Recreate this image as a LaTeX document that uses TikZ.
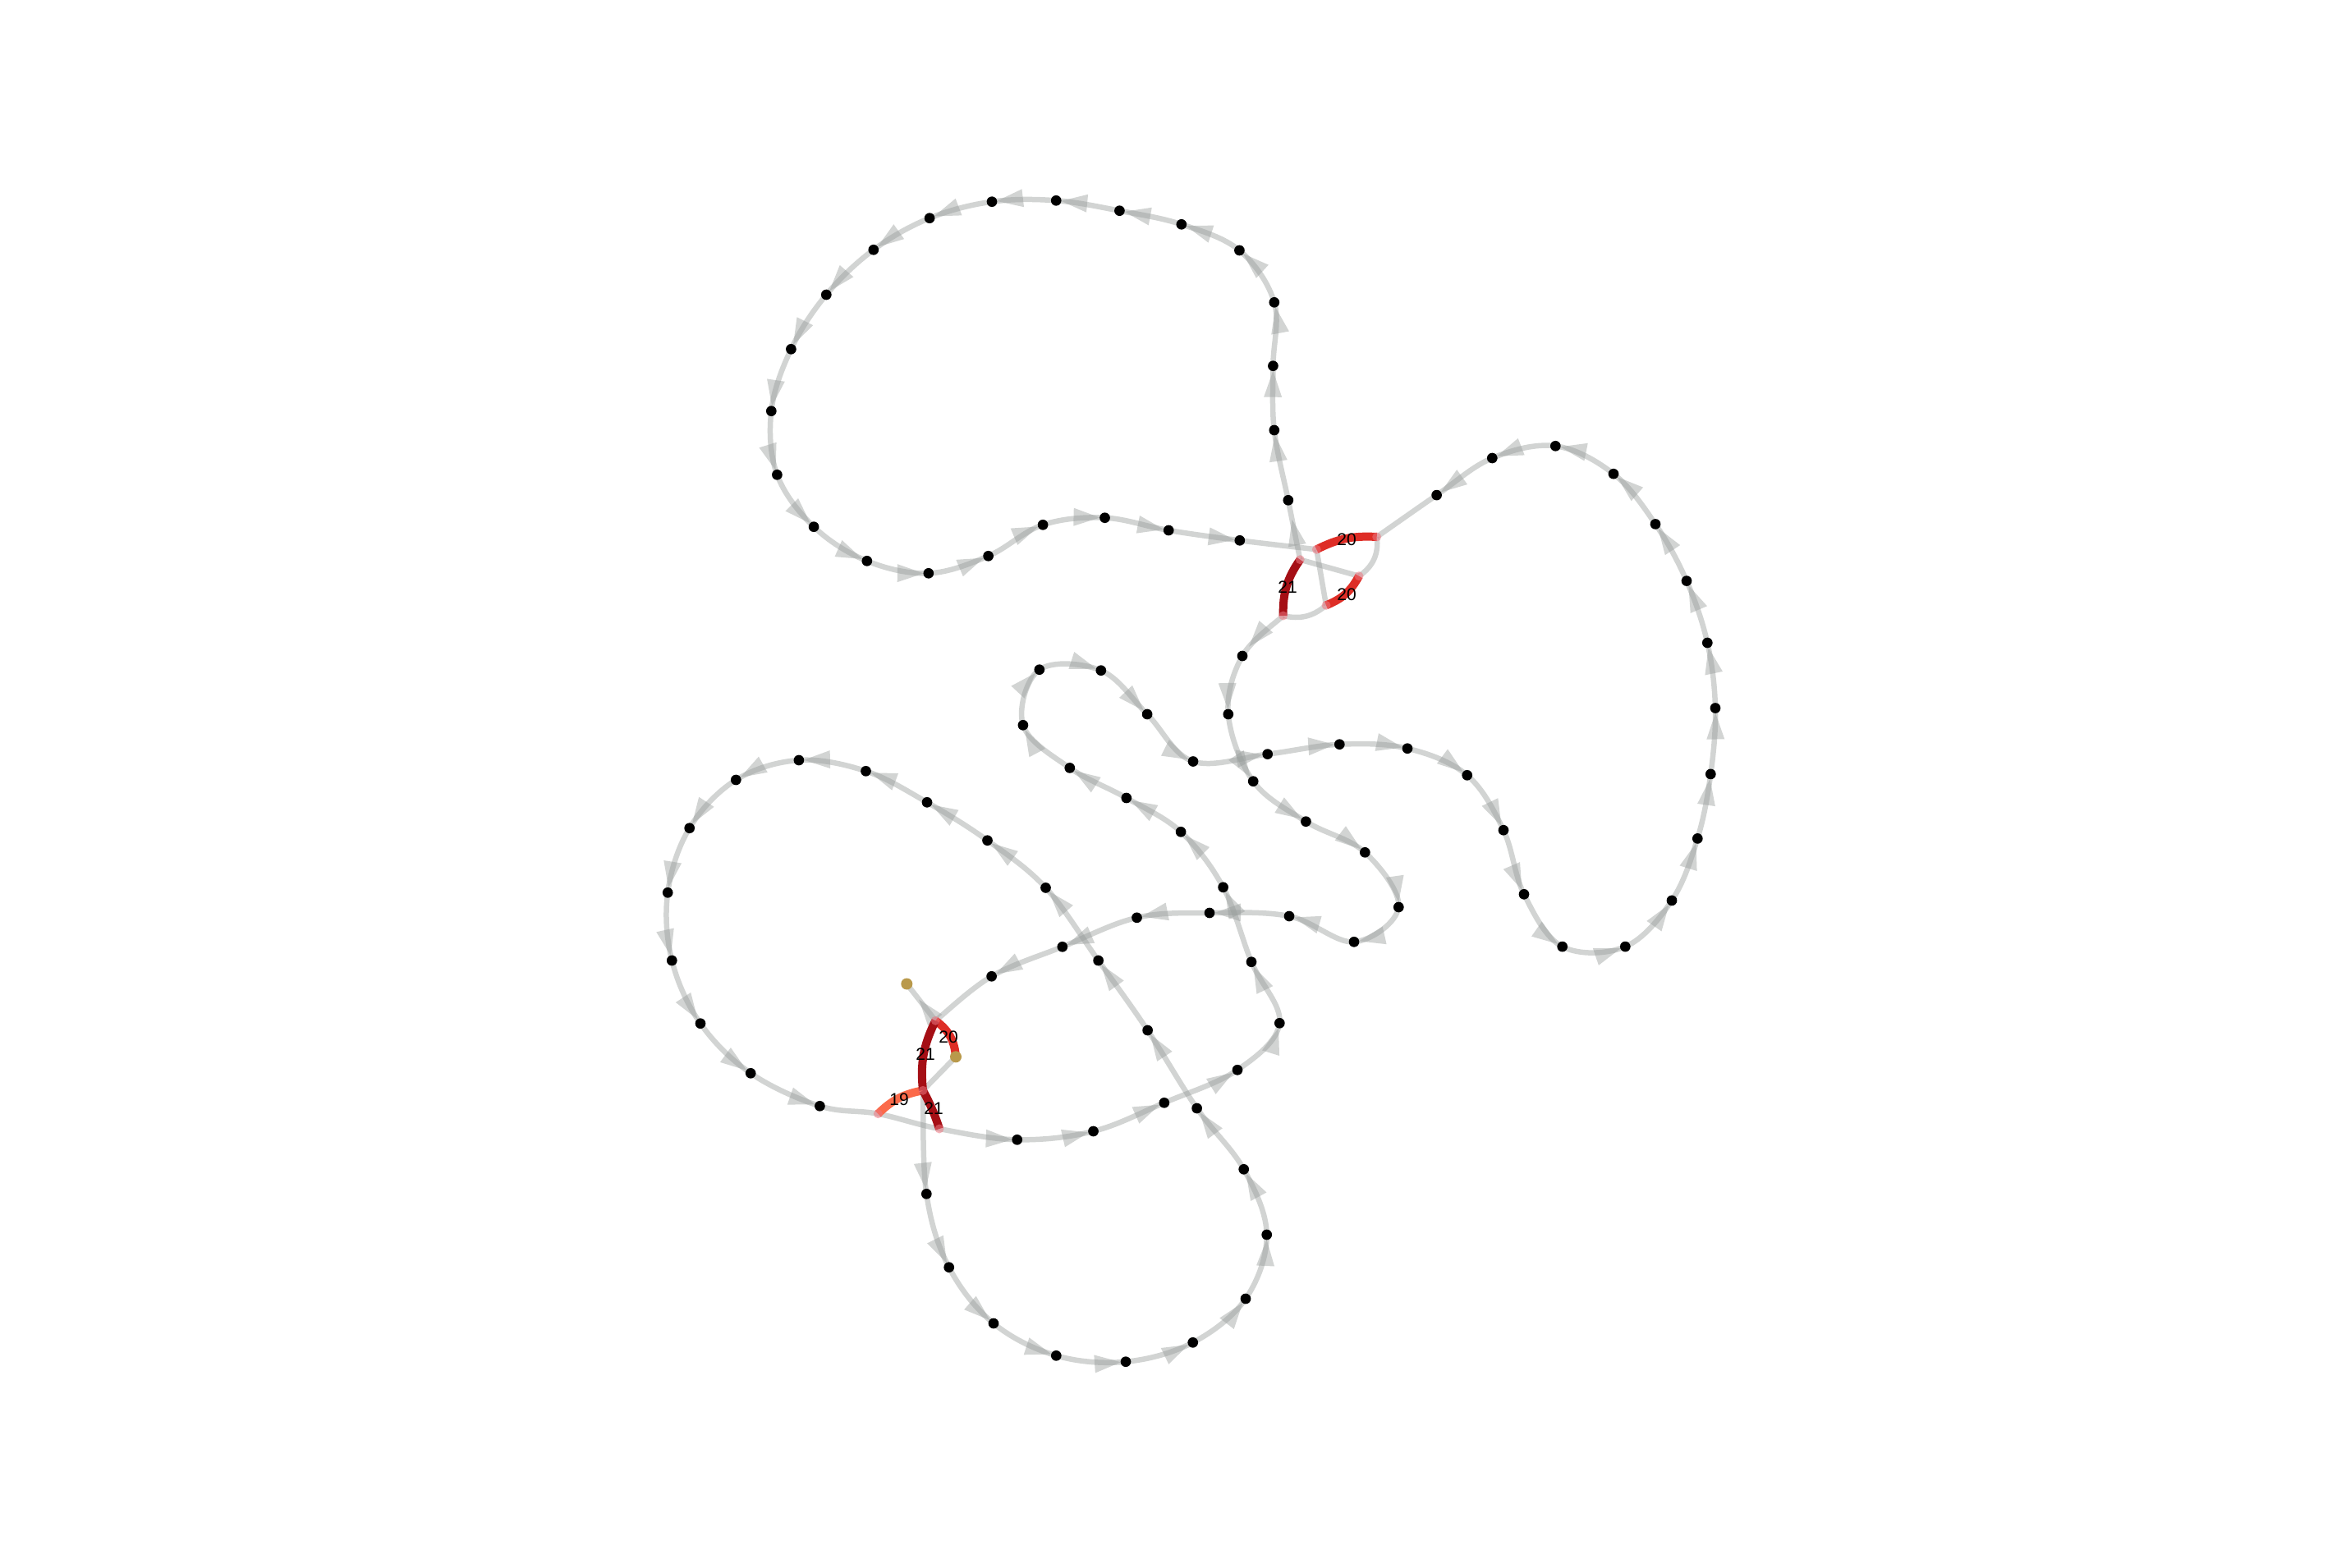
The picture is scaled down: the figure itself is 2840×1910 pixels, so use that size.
\documentclass[tikz,border=0pt]{standalone}
\usepackage{fontspec}
\setmainfont{Liberation Sans}
\usetikzlibrary{calc,decorations.markings}
\pgfdeclarelayer{edges}
\pgfdeclarelayer{reds}
\pgfsetlayers{edges,reds,main}
\definecolor{edgegray}{RGB}{150,155,153}
\definecolor{redA}{RGB}{251,106,74}
\definecolor{redB}{RGB}{222,45,38}
\definecolor{redC}{RGB}{165,15,21}
\definecolor{goldc}{RGB}{185,153,75}
\definecolor{jpink}{RGB}{236,118,128}
\tikzset{
  gedge/.style={draw=edgegray, draw opacity=0.43, line width=6.5pt},
  arw/.style={postaction={decorate, decoration={markings, mark=at position -#1 with {\fill[fill=edgegray, fill opacity=0.43] (0pt,0pt) -- (-32pt,11pt) -- (-32pt,-11pt) -- cycle;}}}},
  arw/.default=6pt,
  redge/.style={line width=10pt},
  dot/.style={circle, fill=black, inner sep=0pt, minimum size=12.7pt},
  golddot/.style={circle, fill=goldc, inner sep=0pt, minimum size=14pt},
  jn/.style={circle, fill=jpink, fill opacity=0.55, inner sep=0pt, minimum size=11pt},
  lab/.style={font=\fontsize{21}{25}\selectfont, inner sep=0pt, text=black},
}
\expandafter\def\csname noarw@P1\endcsname{}
\expandafter\def\csname noarw@P2\endcsname{}
\expandafter\def\csname noarw@P3\endcsname{}
\expandafter\def\csname noarw@P4\endcsname{}
\expandafter\def\csname noarw@P5\endcsname{}
\expandafter\def\csname noarw@P6\endcsname{}
\expandafter\def\csname noarw@Q1\endcsname{}
\expandafter\def\csname noarw@Q2\endcsname{}
\expandafter\def\csname noarw@Q3\endcsname{}
\expandafter\def\csname noarw@Q4\endcsname{}
\expandafter\def\csname arwoff@P3@a1\endcsname{24pt}
\expandafter\def\csname arwoff@P4@c1\endcsname{14pt}
\newcommand\eseg[4]{%
  \ifcsname noarw@#3\endcsname
    \draw[gedge] (#2.center) .. controls ($(#2.center)+0.1667*(#3.center)-0.1667*(#1.center)$) and ($(#3.center)+0.1667*(#2.center)-0.1667*(#4.center)$) .. (#3.center);%
  \else
    \ifcsname arwoff@#2@#3\endcsname
      \edef\myoff{\csname arwoff@#2@#3\endcsname}%
    \else
      \def\myoff{6pt}%
    \fi
    \draw[gedge,arw=\myoff] (#2.center) .. controls ($(#2.center)+0.1667*(#3.center)-0.1667*(#1.center)$) and ($(#3.center)+0.1667*(#2.center)-0.1667*(#4.center)$) .. (#3.center);%
  \fi
}
\ExplSyntaxOn
\seq_new:N \l_my_chain_seq
\int_new:N \l_my_n_int
\NewDocumentCommand \chain { m }
  {
    \seq_set_from_clist:Nn \l_my_chain_seq {#1}
    \int_set:Nn \l_my_n_int { \seq_count:N \l_my_chain_seq }
    \int_step_inline:nn { \l_my_n_int - 1 }
      {
        \use:e
          {
            \exp_not:N \eseg
              { \seq_item:Nn \l_my_chain_seq { \int_max:nn { ##1 - 1 } { 1 } } }
              { \seq_item:Nn \l_my_chain_seq { ##1 } }
              { \seq_item:Nn \l_my_chain_seq { ##1 + 1 } }
              { \seq_item:Nn \l_my_chain_seq { \int_min:nn { ##1 + 2 } { \l_my_n_int } } }
          }
      }
  }
\ExplSyntaxOff
\begin{document}
\begin{tikzpicture}[x=1pt,y=-1pt]
\useasboundingbox (0,0) rectangle (2840,1910);
% top loop
\node[dot] (a1) at (1568.8,609.3) {};
\node[dot] (a2) at (1551.8,524) {};
\node[dot] (a3) at (1550.4,445.7) {};
\node[dot] (a4) at (1551.8,368.3) {};
\node[dot] (a5) at (1509.4,305) {};
\node[dot] (a6) at (1438.8,273.3) {};
\node[dot] (a7) at (1363.4,256.7) {};
\node[dot] (a8) at (1286.2,244.3) {};
\node[dot] (a9) at (1208,245.7) {};
\node[dot] (a10) at (1132.1,265.7) {};
\node[dot] (a11) at (1063.8,304.3) {};
\node[dot] (a12) at (1006.3,359) {};
\node[dot] (a13) at (963.4,425.3) {};
\node[dot] (a14) at (939.3,500.7) {};
\node[dot] (a15) at (946.4,578.3) {};
\node[dot] (a16) at (991.1,641.7) {};
\node[dot] (a17) at (1055.8,683.3) {};
\node[dot] (a18) at (1130.8,698.3) {};
\node[dot] (a19) at (1203.6,677.3) {};
\node[dot] (a20) at (1270.1,639.3) {};
\node[dot] (a21) at (1345.5,630.7) {};
\node[dot] (a22) at (1423.2,646) {};
\node[dot] (a23) at (1509.8,658.3) {};
% right loop
\node[dot] (b1) at (1749.6,603.1) {};
\node[dot] (b2) at (1817.3,558) {};
\node[dot] (b3) at (1894.3,543.3) {};
\node[dot] (b4) at (1965,577.2) {};
\node[dot] (b5) at (2016,638.4) {};
\node[dot] (b6) at (2054,707.6) {};
\node[dot] (b7) at (2079.3,783) {};
\node[dot] (b8) at (2089,862.5) {};
\node[dot] (b9) at (2083.3,942.9) {};
\node[dot] (b10) at (2067.3,1021.4) {};
\node[dot] (b11) at (2036,1096.9) {};
\node[dot] (b12) at (1979.3,1153.1) {};
\node[dot] (b13) at (1902.7,1153.1) {};
\node[dot] (b14) at (1856,1089.3) {};
\node[dot] (b15) at (1831,1011.2) {};
% middle
\node[dot] (c1) at (1513,799) {};
\node[dot] (c2) at (1495.8,870) {};
\node[dot] (c3) at (1265.8,815.7) {};
\node[dot] (c4) at (1340.8,816.7) {};
\node[dot] (c5) at (1245.9,883.3) {};
\node[dot] (c6) at (1397.1,870) {};
\node[dot] (c7) at (1453,927.5) {};
\node[dot] (c8) at (1543.7,918.6) {};
\node[dot] (c9) at (1631.3,906.7) {};
\node[dot] (c10) at (1714,911.7) {};
\node[dot] (c11) at (1786.7,944.3) {};
\node[dot] (c12) at (1526.2,951.7) {};
\node[dot] (c13) at (1590.4,1000.7) {};
\node[dot] (c14) at (1662.3,1038.3) {};
\node[dot] (c15) at (1703.3,1105) {};
\node[dot] (c16) at (1649,1147.3) {};
\node[dot] (c17) at (1570,1116) {};
\node[dot] (c18) at (1473,1112) {};
\node[dot] (c19) at (1384.5,1117.8) {};
\node[dot] (c20) at (1293.8,1153.3) {};
\node[dot] (c21) at (1207.6,1189.3) {};
\node[dot] (c22) at (1302.8,935.4) {};
\node[dot] (c23) at (1371.8,972) {};
\node[dot] (c24) at (1438.1,1013.3) {};
\node[dot] (c25) at (1489.6,1080.8) {};
\node[dot] (c26) at (1524,1171.7) {};
\node[dot] (c27) at (1558.3,1246.3) {};
\node[dot] (c28) at (1202.5,1023.7) {};
\node[dot] (c29) at (1273.5,1081.4) {};
\node[dot] (c30) at (1337.6,1170) {};
\node[dot] (c31) at (1397.6,1255) {};
% bottom loop
\node[dot] (f1) at (1128.3,1454.3) {};
\node[dot] (f2) at (1155.7,1543.7) {};
\node[dot] (f3) at (1210,1612) {};
\node[dot] (f4) at (1286.3,1651.3) {};
\node[dot] (f5) at (1371,1658.7) {};
\node[dot] (f6) at (1452.7,1635.3) {};
\node[dot] (f7) at (1517,1582) {};
\node[dot] (f8) at (1542.7,1504) {};
\node[dot] (f9) at (1514.7,1424.3) {};
\node[dot] (g1) at (1457.6,1350) {};
% left loop
\node[dot] (g2) at (1129,977.3) {};
\node[dot] (g3) at (1054.5,939.3) {};
\node[dot] (g4) at (972.9,926) {};
\node[dot] (g5) at (896.3,950) {};
\node[dot] (g6) at (839.7,1008.7) {};
\node[dot] (g7) at (813.2,1087.3) {};
\node[dot] (g8) at (818.3,1170) {};
\node[dot] (g9) at (853,1246.7) {};
\node[dot] (g10) at (914.2,1307.3) {};
\node[dot] (g11) at (998.4,1347.3) {};
\node[dot] (e1) at (1238.7,1388.3) {};
\node[dot] (e2) at (1331.5,1378) {};
\node[dot] (e3) at (1417.8,1343.3) {};
\node[dot] (e4) at (1507,1303.3) {};
% junctions
\node[jn] (P1) at (1603.3,669.3) {};
\node[jn] (P2) at (1676.7,654) {};
\node[jn] (P3) at (1583.3,681.7) {};
\node[jn] (P4) at (1562.7,750) {};
\node[jn] (P5) at (1655,701.7) {};
\node[jn] (P6) at (1615,737.3) {};
\node[jn] (Q1) at (1139.3,1243.3) {};
\node[jn] (Q2) at (1124,1328.3) {};
\node[jn] (Q3) at (1069.3,1356.7) {};
\node[jn] (Q4) at (1144,1375) {};
\node[golddot] (G1) at (1104.3,1198.5) {};
\node[golddot] (G2) at (1164,1287.3) {};
% labels
\node[lab] (l1) at (1640,657) {20};
\node[lab] (l2) at (1568,715) {21};
\node[lab] (l3) at (1640,724) {20};
\node[lab] (l4) at (1155,1263) {20};
\node[lab] (l5) at (1127,1284) {21};
\node[lab] (l6) at (1095,1339) {19};
\node[lab] (l7) at (1137,1350) {21};
\begin{pgfonlayer}{edges}
\chain{P3,a1,a2,a3,a4,a5,a6,a7,a8,a9,a10,a11,a12,a13,a14,a15,a16,a17,a18,a19,a20,a21,a22,a23,P1}
\chain{P4,c1,c2,c12,c13,c14,c15,c16,c17,c18,c19,c20,c21,Q1}
\chain{Q2,f1,f2,f3,f4,f5,f6,f7,f8,f9,g1,c31,c30,c29,c28,g2,g3,g4,g5,g6,g7,g8,g9,g10,g11,Q3,Q4,e1,e2,e3,e4,c27,c26,c25,c24,c23,c22,c5,c3,c4,c6,c7,c8,c9,c10,c11,b15,b14,b13,b12,b11,b10,b9,b8,b7,b6,b5,b4,b3,b2,b1,P2}
\draw[gedge] (P1.center) -- (P6.center);
\draw[gedge] (P3.center) -- (P5.center);
\draw[gedge] (P2.center) to[bend left=32] (P5.center);
\draw[gedge] (P6.center) to[bend left=27] (P4.center);
\draw[gedge,arw=24pt] (Q1.center) -- (G1.center);
\draw[gedge] (G2.center) -- (Q2.center);
\end{pgfonlayer}
\begin{pgfonlayer}{reds}
\draw[redge, redB] (P1.center) to[bend left=15] (P2.center);
\draw[redge, redC] (P4.center) to[bend left=18] (P3.center);
\draw[redge, redB] (P5.center) to[bend left=20] (P6.center);
\draw[redge, redB] (Q1.center) to[bend left=25] (G2.center);
\draw[redge, redA] (Q3.center) to[bend left=17] (Q2.center);
\draw[redge, redC] (Q1.center) to[bend right=16] (Q2.center);
\draw[redge, redC] (Q2.center) to[bend left=5] (Q4.center);
\end{pgfonlayer}
\end{tikzpicture}
\end{document}
